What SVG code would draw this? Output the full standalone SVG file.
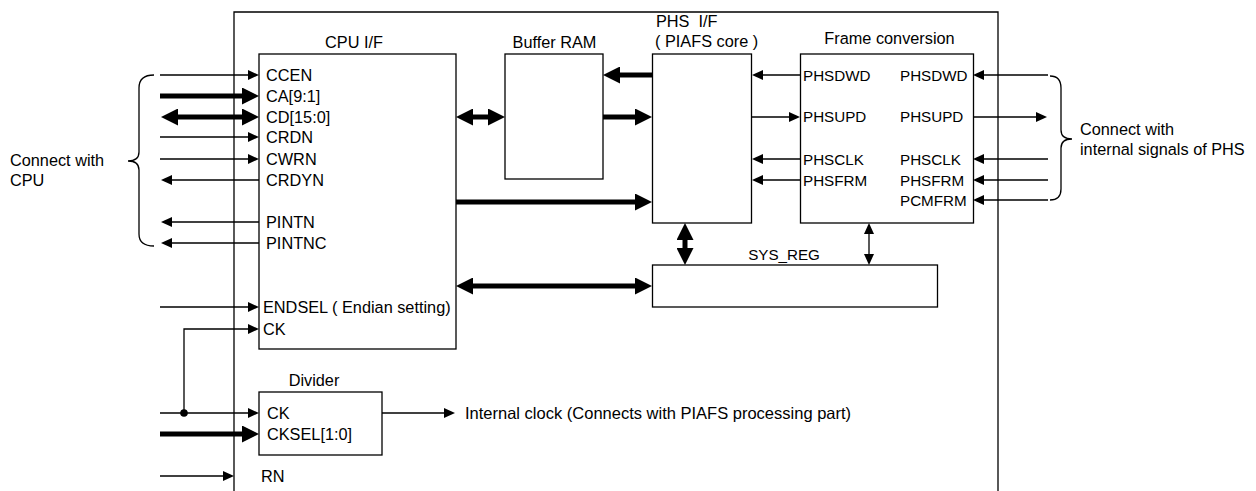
<svg xmlns="http://www.w3.org/2000/svg" width="1256" height="491" viewBox="0 0 1256 491">
<style>
text{font-family:"Liberation Sans",Arial,sans-serif;font-size:16.3px;fill:#000}
.s{font-size:15.2px}
.b{font-size:16.5px}
.m{text-anchor:middle}
.box{fill:#fff;stroke:#000;stroke-width:1.3}
.t{fill:none;stroke:#000;stroke-width:1.3}
.k{fill:none;stroke:#000;stroke-width:5}
.t1{marker-end:url(#ah)}
.t2{marker-start:url(#ah);marker-end:url(#ah)}
.k1{marker-end:url(#bh)}
.k2{marker-start:url(#bh);marker-end:url(#bh)}
</style>
<defs>
<marker id="ah" markerUnits="userSpaceOnUse" viewBox="0 0 11 10" refX="0" refY="5" markerWidth="11" markerHeight="10" orient="auto-start-reverse"><path d="M0,0 L11,5 L0,10 z" fill="#000"/></marker>
<marker id="bh" markerUnits="userSpaceOnUse" viewBox="0 0 17 17" refX="0" refY="8.5" markerWidth="17" markerHeight="17" orient="auto-start-reverse"><path d="M0,0 L17,8.5 L0,17 z" fill="#000"/></marker>
</defs>
<rect width="1256" height="491" fill="#fff"/>

<g id="outer"><path class="t" d="M234,496 V12 H998 V496"/></g>

<g id="cpuif">
<rect class="box" x="259" y="54" width="197" height="295"/>
<text class="m" x="354" y="47.5">CPU I/F</text>
<text x="266" y="80.5">CCEN</text>
<text x="266" y="101.5">CA[9:1]</text>
<text x="266" y="122.5">CD[15:0]</text>
<text x="266" y="142.5">CRDN</text>
<text x="266" y="164.5">CWRN</text>
<text x="266" y="185.5">CRDYN</text>
<text x="266" y="227.5">PINTN</text>
<text x="266" y="248.5">PINTNC</text>
<text x="263" y="312.5">ENDSEL ( Endian setting)</text>
<text x="263" y="334.5">CK</text>
</g>

<g id="bufferram">
<rect class="box" x="505" y="54" width="98" height="125"/>
<text class="m" x="554.5" y="47.5">Buffer RAM</text>
</g>

<g id="phsif">
<rect class="box" x="652.5" y="54" width="99" height="169"/>
<text x="656" y="26.5">PHS&#160; I/F</text>
<text x="655" y="46.5">( PIAFS core )</text>
</g>

<g id="frameconv">
<rect class="box" x="800.5" y="54" width="173" height="169"/>
<text class="m" x="889.5" y="44">Frame conversion</text>
<text class="s" x="803" y="80.5">PHSDWD</text>
<text class="s" x="803" y="122">PHSUPD</text>
<text class="s" x="803" y="164.5">PHSCLK</text>
<text class="s" x="803" y="185.5">PHSFRM</text>
<text class="s" x="900" y="80.5">PHSDWD</text>
<text class="s" x="900" y="122">PHSUPD</text>
<text class="s" x="900" y="164.5">PHSCLK</text>
<text class="s" x="900" y="185.5">PHSFRM</text>
<text class="s" x="900" y="205.5">PCMFRM</text>
</g>

<g id="sysreg">
<rect class="box" x="652.5" y="265" width="285" height="42"/>
<text class="m s" x="784" y="260">SYS_REG</text>
</g>

<g id="divider">
<rect class="box" x="259" y="392" width="123" height="63"/>
<text class="m" x="314" y="386">Divider</text>
<text x="267" y="418.5">CK</text>
<text x="267" y="439.5">CKSEL[1:0]</text>
</g>

<g id="labels">
<text x="10" y="166">Connect with</text>
<text x="10" y="186">CPU</text>
<text x="1080" y="135">Connect with</text>
<text x="1080" y="155">internal signals of PHS</text>
<text class="b" x="465" y="418.5">Internal clock (Connects with PIAFS processing part)</text>
<text x="261" y="481.5">RN</text>
</g>

<g id="connectors">
<path class="t" d="M154,75 Q139,75 139,88 L139,152 Q139,161 128,161 Q139,161 139,170 L139,234 Q139,246 154,246"/>
<path class="t" d="M1050,76 Q1061,76 1061,88 L1061,130 Q1061,139 1072,139 Q1061,139 1061,148 L1061,189 Q1061,200 1050,200"/>

<line class="t t1" x1="160" y1="75" x2="248" y2="75"/>
<line class="k k1" x1="160" y1="96" x2="242" y2="96"/>
<line class="k k2" x1="178" y1="117" x2="242" y2="117"/>
<line class="t t1" x1="160" y1="137" x2="248" y2="137"/>
<line class="t t1" x1="160" y1="159" x2="248" y2="159"/>
<line class="t t1" x1="259" y1="180" x2="172" y2="180"/>
<line class="t t1" x1="259" y1="222" x2="172" y2="222"/>
<line class="t t1" x1="259" y1="243" x2="172" y2="243"/>
<line class="t t1" x1="160" y1="307" x2="248" y2="307"/>
<path class="t t1" d="M184,413 V329 H248"/>
<line class="t t1" x1="160" y1="413" x2="248" y2="413"/>
<circle cx="184" cy="413" r="3.8" fill="#000"/>
<line class="k k1" x1="160" y1="434" x2="242" y2="434"/>
<line class="t t1" x1="160" y1="476" x2="223" y2="476"/>
<line class="t t1" x1="382" y1="413" x2="444" y2="413"/>

<line class="k k2" x1="473" y1="117" x2="488" y2="117"/>
<line class="k k1" x1="652" y1="75" x2="620" y2="75"/>
<line class="k k1" x1="603" y1="117" x2="635" y2="117"/>
<line class="k k1" x1="456" y1="202" x2="635" y2="202"/>
<line class="k k2" x1="473" y1="286" x2="635" y2="286"/>
<line class="k k2" x1="685" y1="240" x2="685" y2="248"/>
<line class="t t2" x1="869" y1="234" x2="869" y2="254"/>

<line class="t t1" x1="800" y1="75" x2="763" y2="75"/>
<line class="t t1" x1="752" y1="117" x2="789" y2="117"/>
<line class="t t1" x1="800" y1="159" x2="763" y2="159"/>
<line class="t t1" x1="800" y1="180" x2="763" y2="180"/>

<line class="t t1" x1="1048" y1="75" x2="984" y2="75"/>
<line class="t t1" x1="973" y1="117" x2="1036" y2="117"/>
<line class="t t1" x1="1048" y1="159" x2="984" y2="159"/>
<line class="t t1" x1="1048" y1="180" x2="984" y2="180"/>
<line class="t t1" x1="1048" y1="200" x2="984" y2="200"/>
</g>
</svg>
